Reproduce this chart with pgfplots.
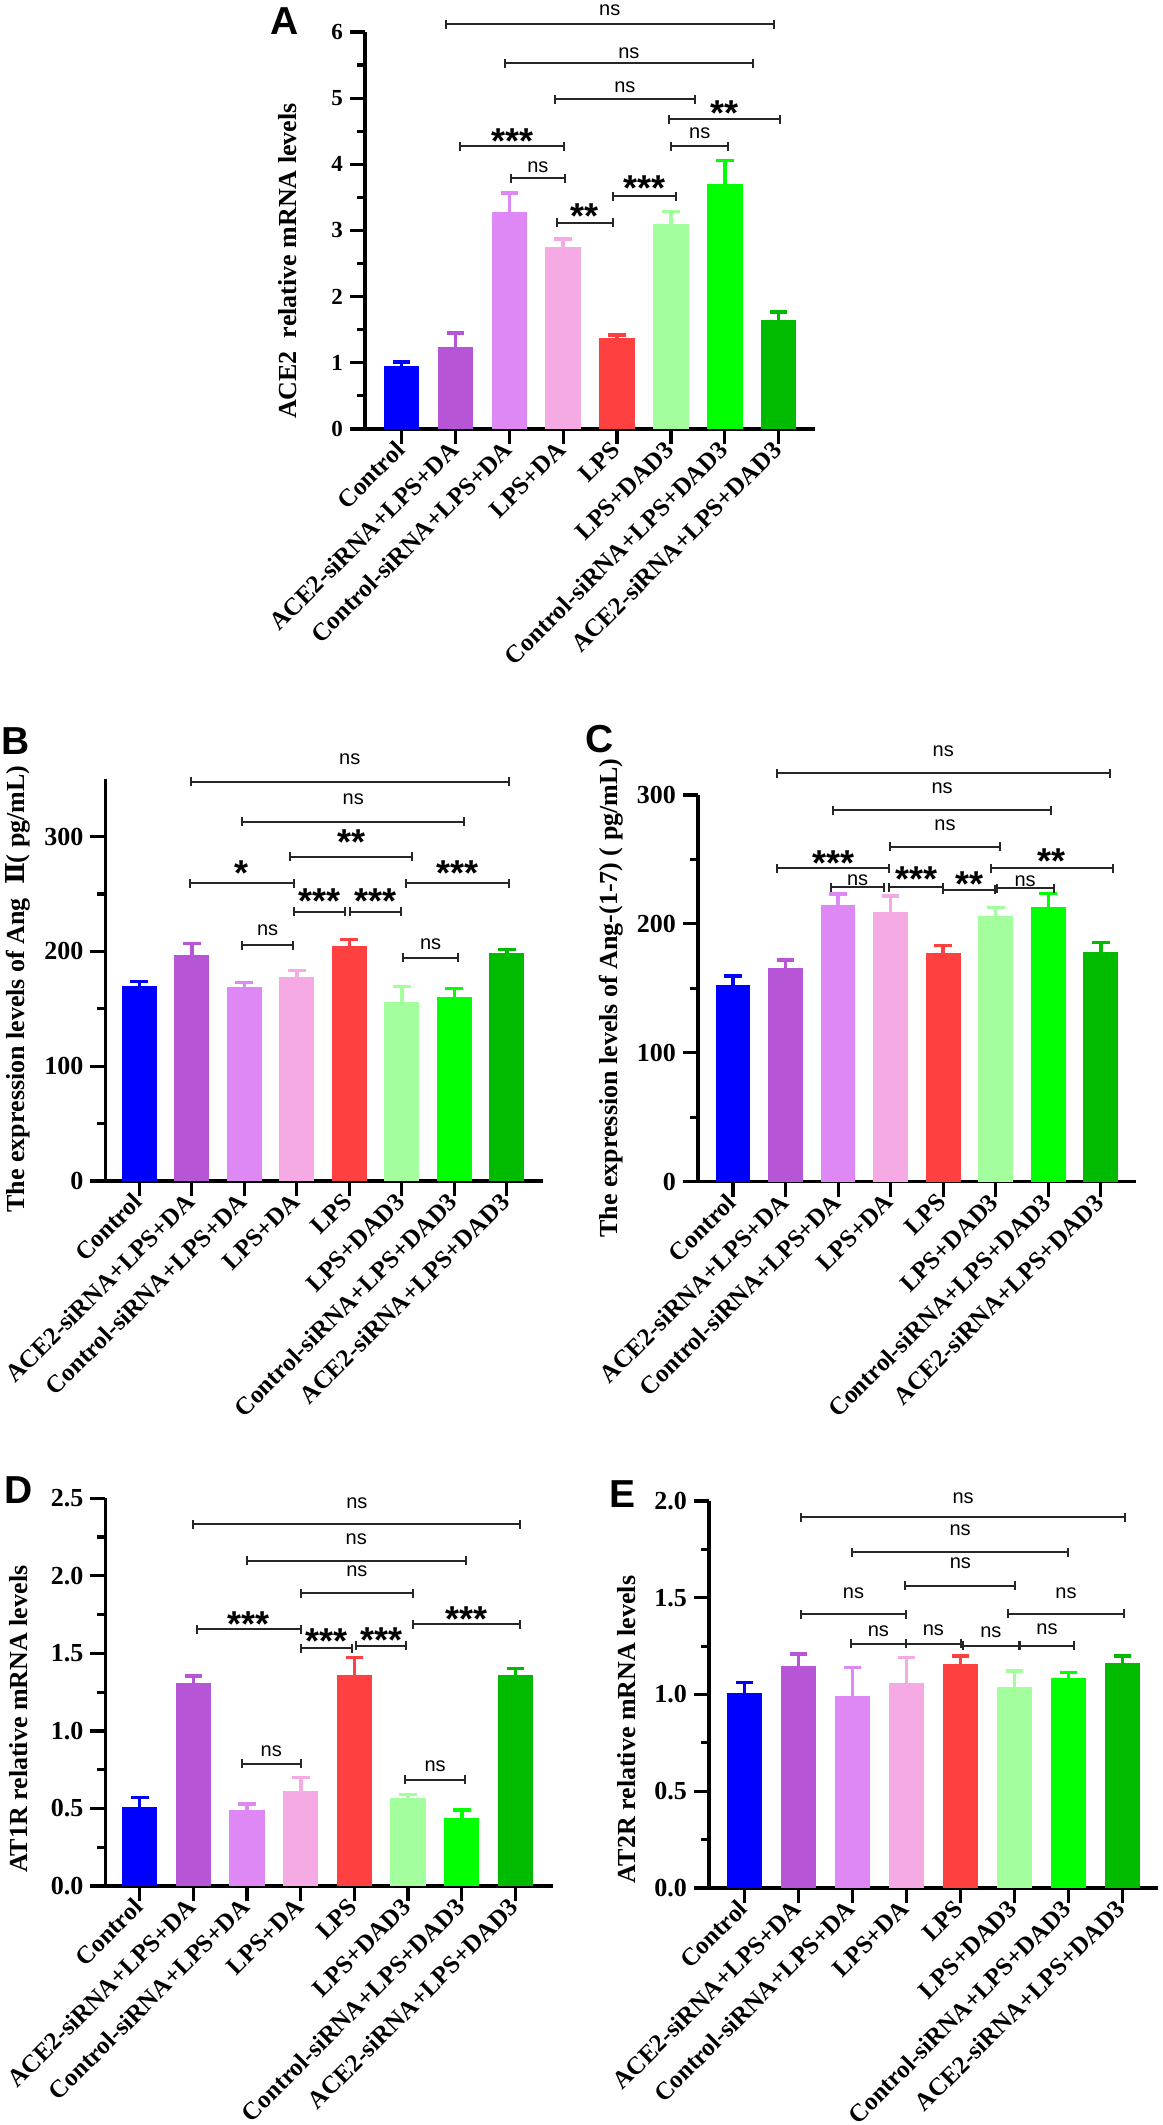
\documentclass[border=0pt]{standalone}
\usepackage{fontspec}
\setmainfont{Liberation Serif}
\newfontfamily\sansf{Liberation Sans}
\newfontfamily\dvserif{DejaVu Serif}
\usepackage{pgfplots}
\pgfplotsset{compat=1.18}

\definecolor{c0}{RGB}{0,0,255}
\definecolor{c1}{RGB}{182,86,214}
\definecolor{c2}{RGB}{221,136,245}
\definecolor{c3}{RGB}{245,170,228}
\definecolor{c4}{RGB}{255,64,64}
\definecolor{c5}{RGB}{163,255,158}
\definecolor{c6}{RGB}{0,255,0}
\definecolor{c7}{RGB}{0,187,0}

\newcommand\nsf{\sansf\fontsize{10}{10}\selectfont}
\newcommand\stf{\sansf\bfseries\fontsize{18}{18}\selectfont}

\tikzset{brk/.style={line width=1pt, black!85}}

% one bar with its upward error bar
\newcommand\gb[4]{\addplot[ybar, bar width=0.66, bar shift=0pt, fill=#1, draw=none,
  error bars/.cd, y dir=plus, y explicit,
  error bar style={color=#1, line width=1.75pt},
  error mark options={color=#1, line width=1.75pt, mark size=4.4pt, rotate=90}]
  coordinates {(#2,#3) +- (0,#4)};}

% bracket with "ns"
\newcommand\brns[4]{%
  \draw[brk] (axis cs:#1,#3) -- (axis cs:#2,#3);
  \draw[brk] (axis cs:#1,#3) ++(0pt,-2.25pt) -- ++(0pt,4.5pt);
  \draw[brk] (axis cs:#2,#3) ++(0pt,-2.25pt) -- ++(0pt,4.5pt);
  \node[anchor=base, yshift=-2.6pt, font=\nsf, inner sep=0pt] at (axis cs:{(#1+#2)/2},#4) {ns};}
% bracket with stars
\newcommand\brst[5]{%
  \draw[brk] (axis cs:#1,#3) -- (axis cs:#2,#3);
  \draw[brk] (axis cs:#1,#3) ++(0pt,-2.25pt) -- ++(0pt,4.5pt);
  \draw[brk] (axis cs:#2,#3) ++(0pt,-2.25pt) -- ++(0pt,4.5pt);
  \node[anchor=base, yshift=-10pt, font=\stf, inner sep=0pt] at (axis cs:{(#1+#2)/2},#4) {#5};}

\pgfplotsset{
  panel/.style={
    scale only axis, anchor=south west, clip=false,
    axis lines=left, axis line style={-, line width=1.65pt, black},
    tick align=outside, major tick length=7.5pt, minor tick length=4pt,
    tick style={line width=1.6pt, black},
    xtick={0,...,7},
    xticklabels={Control,ACE2-siRNA+LPS+DA,Control-siRNA+LPS+DA,LPS+DA,LPS,LPS+DAD3,Control-siRNA+LPS+DAD3,ACE2-siRNA+LPS+DAD3},
    xticklabel style={rotate=45, anchor=east, font=\fontsize{12.5}{12.5}\selectfont\bfseries, inner sep=1pt},
    yticklabel style={font=\fontsize{13}{13}\selectfont\bfseries},
    /pgf/number format/assume math mode=true,
    ymin=0,
    ylabel style={font=\fontsize{13}{15}\selectfont\bfseries, anchor=center},
  },
}

\begin{document}
\begin{tikzpicture}
\path[use as bounding box] (0,0) rectangle (581pt,1062.5pt);

% ---------------- A ----------------
\begin{axis}[panel, at={(182.5pt,848pt)}, width=225pt, height=198.5pt,
  xmin=-0.68, xmax=7.675, ymax=6,
  ytick={0,1,2,3,4,5,6}, minor ytick={0.5,1.5,2.5,3.5,4.5,5.5},
  yticklabel style={font=\fontsize{11.5}{11.5}\selectfont\bfseries},
  ylabel={ACE2\ \ relative mRNA levels},
  ylabel style={at={(axis description cs:-0.173,0.423)}}]
\gb{c0}{0}{0.946}{0.065}
\gb{c1}{1}{1.24}{0.21}
\gb{c2}{2}{3.28}{0.29}
\gb{c3}{3}{2.75}{0.12}
\gb{c4}{4}{1.37}{0.05}
\gb{c5}{5}{3.10}{0.19}
\gb{c6}{6}{3.71}{0.35}
\gb{c7}{7}{1.64}{0.13}
\brns{0.82}{6.91}{6.12}{6.33}
\brns{1.92}{6.52}{5.53}{5.68}
\brns{2.84}{5.45}{4.98}{5.16}
\brst{4.96}{7.02}{4.68}{4.89}{**}
\brst{1.09}{3.01}{4.27}{4.47}{***}
\brns{5.01}{6.06}{4.27}{4.47}
\brns{2.03}{3.03}{3.79}{3.96}
\brst{3.93}{5.10}{3.52}{3.76}{***}
\brst{2.88}{3.92}{3.12}{3.33}{**}
\end{axis}

% ---------------- B ----------------
\begin{axis}[panel, at={(52.7pt,472pt)}, width=218.8pt, height=200.85pt,
  xmin=-0.645, xmax=7.69, ymax=350,
  ytick={0,100,200,300}, minor ytick={50,150,250},
  ylabel={The expression levels of Ang\ \ {\dvserif\bfseries Ⅱ}( pg/mL)},
  ylabel style={at={(axis description cs:-0.201,0.478)}}]
\gb{c0}{0}{170.2}{3.8}
\gb{c1}{1}{197.2}{9.8}
\gb{c2}{2}{169.3}{3.7}
\gb{c3}{3}{177.8}{5.5}
\gb{c4}{4}{204.8}{5.8}
\gb{c5}{5}{156.3}{13.0}
\gb{c6}{6}{160.0}{7.6}
\gb{c7}{7}{198.4}{3.5}
\brns{0.98}{7.04}{348}{367.4}
\brns{1.96}{6.19}{313}{332.6}
\brst{2.88}{5.20}{282.6}{301.5}{**}
\brst{0.96}{2.94}{259.4}{275.3}{*}
\brst{5.08}{7.04}{259.4}{274.8}{***}
\brst{2.94}{3.92}{234.7}{250.7}{***}
\brst{4.02}{4.98}{234.7}{250.7}{***}
\brns{1.96}{2.93}{205.6}{218.1}
\brns{5.03}{6.07}{194.6}{206.5}
\end{axis}

% ---------------- C ----------------
\begin{axis}[panel, at={(349pt,471.65pt)}, width=219pt, height=193.35pt,
  xmin=-0.667, xmax=7.67, ymax=300,
  ytick={0,100,200,300}, minor ytick={50,150,250},
  ylabel={The expression levels of Ang-(1-7)\ (\ pg/mL)},
  ylabel style={at={(axis description cs:-0.199,0.475)}}]
\gb{c0}{0}{152.3}{7.3}
\gb{c1}{1}{166.0}{6.0}
\gb{c2}{2}{214.6}{8.6}
\gb{c3}{3}{209.0}{12.6}
\gb{c4}{4}{177.7}{5.4}
\gb{c5}{5}{206.1}{6.7}
\gb{c6}{6}{212.8}{10.6}
\gb{c7}{7}{178.0}{7.7}
\brns{0.83}{7.17}{316.8}{333.6}
\brns{1.91}{6.05}{288.3}{305.1}
\brns{2.98}{5.09}{259.9}{276.7}
\brst{0.84}{2.97}{243.1}{253.4}{***}
\brst{4.91}{7.23}{243.1}{254.7}{**}
\brns{1.86}{2.88}{228.3}{233.5}
\brst{2.97}{4.00}{228.3}{240.5}{***}
\brst{4.00}{4.99}{226.3}{236.6}{**}
\brns{5.02}{6.10}{227.6}{232.7}
\end{axis}

% ---------------- D ----------------
\begin{axis}[panel, at={(52.7pt,119.5pt)}, width=223.8pt, height=193.85pt,
  xmin=-0.64, xmax=7.70, ymax=2.5,
  ytick={0,0.5,1,1.5,2,2.5}, minor ytick={0.25,0.75,1.25,1.75,2.25},
  yticklabel={\pgfmathprintnumber[fixed,fixed zerofill,precision=1]{\tick}},
  ylabel={AT1R relative mRNA levels},
  ylabel style={at={(axis description cs:-0.193,0.43)}}]
\gb{c0}{0}{0.512}{0.058}
\gb{c1}{1}{1.311}{0.043}
\gb{c2}{2}{0.490}{0.039}
\gb{c3}{3}{0.610}{0.089}
\gb{c4}{4}{1.359}{0.114}
\gb{c5}{5}{0.565}{0.026}
\gb{c6}{6}{0.441}{0.049}
\gb{c7}{7}{1.359}{0.043}
\brns{1.0}{7.09}{2.332}{2.468}
\brns{2.0}{6.07}{2.096}{2.236}
\brns{3.0}{5.09}{1.887}{2.027}
\brst{1.07}{3.0}{1.655}{1.737}{***}
\brst{5.09}{7.09}{1.687}{1.769}{***}
\brst{3.0}{3.95}{1.533}{1.629}{***}
\brst{4.03}{4.97}{1.548}{1.634}{***}
\brns{1.9}{3.0}{0.787}{0.866}
\brns{4.95}{6.06}{0.684}{0.770}
\end{axis}

% ---------------- E ----------------
\begin{axis}[panel, at={(354.5pt,118.5pt)}, width=224.5pt, height=193.5pt,
  xmin=-0.656, xmax=7.66, ymax=2.0,
  ytick={0,0.5,1,1.5,2}, minor ytick={0.25,0.75,1.25,1.75},
  yticklabel={\pgfmathprintnumber[fixed,fixed zerofill,precision=1]{\tick}},
  ylabel={AT2R relative mRNA levels},
  ylabel style={at={(axis description cs:-0.1826,0.41)}}]
\gb{c0}{0}{1.007}{0.055}
\gb{c1}{1}{1.145}{0.063}
\gb{c2}{2}{0.993}{0.146}
\gb{c3}{3}{1.059}{0.132}
\gb{c4}{4}{1.158}{0.042}
\gb{c5}{5}{1.041}{0.081}
\gb{c6}{6}{1.086}{0.028}
\gb{c7}{7}{1.165}{0.035}
\brns{1.05}{7.05}{1.916}{2.014}
\brns{2.0}{5.99}{1.735}{1.847}
\brns{2.98}{5.02}{1.563}{1.678}
\brns{1.05}{2.99}{1.415}{1.523}
\brns{4.88}{7.03}{1.417}{1.523}
\brns{1.97}{2.99}{1.262}{1.325}
\brns{2.99}{4.01}{1.262}{1.334}
\brns{4.04}{5.09}{1.253}{1.320}
\brns{5.11}{6.10}{1.253}{1.337}
\end{axis}

% panel letters
\node[font=\sansf\bfseries\fontsize{19.5}{19.5}\selectfont] at (142.5pt,1052pt) {A};
\node[font=\sansf\bfseries\fontsize{19.5}{19.5}\selectfont] at (8pt,692pt) {B};
\node[font=\sansf\bfseries\fontsize{19.5}{19.5}\selectfont] at (300pt,693pt) {C};
\node[font=\sansf\bfseries\fontsize{19.5}{19.5}\selectfont] at (9.5pt,317.5pt) {D};
\node[font=\sansf\bfseries\fontsize{19.5}{19.5}\selectfont] at (311pt,315.5pt) {E};
\end{tikzpicture}
\end{document}
